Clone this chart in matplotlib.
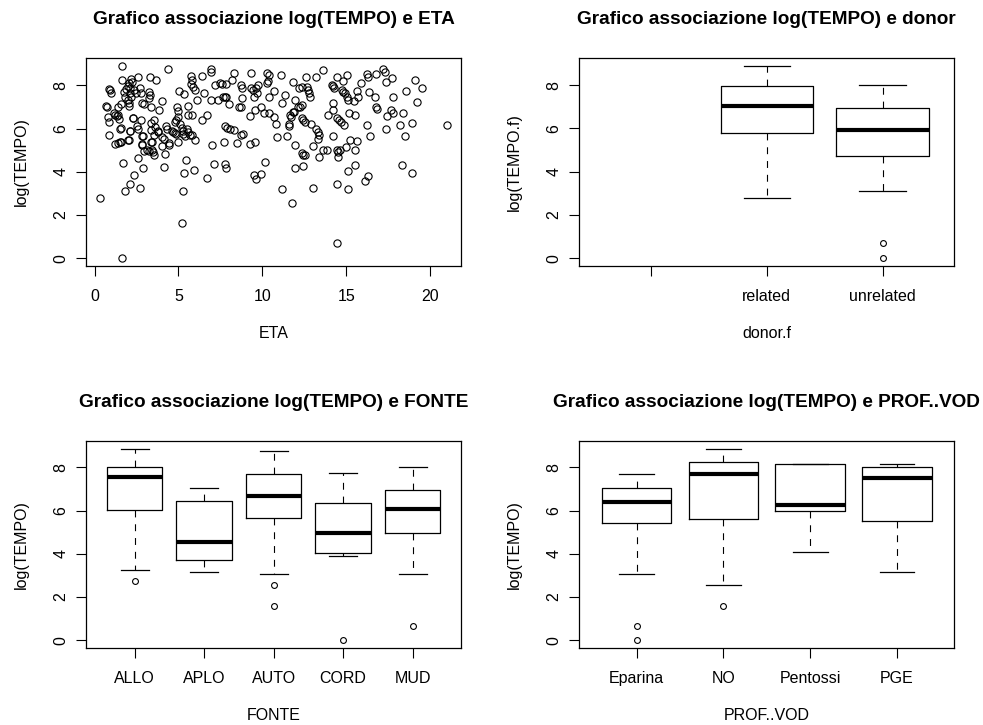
import matplotlib
matplotlib.use("Agg")
import matplotlib.pyplot as plt

plt.rcParams['font.family'] = ['Liberation Sans', 'DejaVu Sans']

# ---- scatter: ETA vs log(TEMPO) ----
eta = [
    0.32, 1.65, 1.61, 0.85, 0.90, 1.00, 0.70, 0.72, 0.80, 0.88,
    0.86, 1.15, 1.40, 1.48, 1.32, 1.20, 1.40, 1.52, 1.60, 1.50,
    1.70, 1.80, 2.10, 2.38, 2.70, 2.87, 2.58, 1.63, 1.78, 1.88,
    1.97, 2.07, 1.82, 1.97, 2.11, 2.14, 2.24, 2.18, 2.38, 2.48,
    2.61, 2.70, 2.76, 2.82, 2.05, 2.03, 2.30, 2.74, 2.55, 2.61,
    2.14, 2.08, 2.90, 2.84, 3.10, 3.25, 3.40, 3.43, 3.33, 3.23,
    3.28, 3.23, 3.37, 3.69, 3.53, 3.63, 3.53, 3.50, 3.56, 3.83,
    4.00, 3.80, 4.00, 4.04, 4.12, 4.22, 4.38, 4.26, 4.32, 4.42,
    4.12, 2.18, 1.39, 1.59, 2.93, 3.37, 2.28, 1.55, 3.77, 3.37,
    2.14, 2.02, 1.20, 2.82, 3.37, 2.82, 4.46, 2.95,
    4.60, 4.70, 4.80, 4.88, 4.93, 4.97, 5.00, 4.88, 4.82, 5.05,
    5.10, 5.20, 5.26, 5.30, 5.40, 4.98, 5.21, 5.27, 5.35, 5.47,
    5.35, 5.50, 5.55, 5.66, 5.55, 5.60, 5.80, 5.75, 5.80, 5.75,
    5.87, 6.00, 6.10, 5.90, 6.00, 5.80, 6.40, 6.50, 6.42, 6.70,
    6.70, 6.94, 6.96, 6.94, 7.00, 7.10, 7.20, 7.33, 7.45, 7.60,
    7.65, 7.75, 7.85, 7.69, 7.80, 7.90, 8.05, 7.80, 7.85, 7.85,
    8.00, 8.19, 8.29, 8.29, 8.48, 8.58, 8.72, 8.72, 8.78, 8.78,
    8.72, 8.84, 9.32, 9.32, 9.44, 9.50, 9.57, 9.63, 9.24, 9.24,
    9.57, 9.50, 9.60, 9.77, 9.70, 9.93, 9.93, 10.07, 10.17,
    10.27, 10.33, 10.30, 10.40, 10.37, 10.37, 10.70, 10.70, 10.82, 10.90,
    11.10, 11.16, 11.36, 11.20, 11.46, 11.56, 11.60, 11.66, 11.70, 11.78,
    11.81, 11.81, 11.90, 11.95, 11.95, 11.95, 12.15, 12.25, 12.35, 12.20,
    12.35, 12.35, 12.45, 12.55, 12.35, 12.45, 12.52, 12.45, 12.60, 12.65,
    12.75, 12.80, 12.85, 12.88, 13.00, 13.00, 13.20, 13.20, 13.33, 13.40,
    13.33, 13.40, 13.60, 13.60, 13.94, 13.84, 14.13, 14.20, 14.27, 14.20,
    14.23, 14.23, 14.47, 14.47, 14.47, 14.47, 14.57, 14.67, 14.47, 14.53,
    14.62, 14.53, 14.73, 14.83, 14.93, 15.03, 14.83, 14.87, 15.03, 14.99,
    15.13, 15.13, 15.13, 15.19, 15.23, 15.46, 15.52, 15.52, 15.52, 15.66,
    15.72, 15.66, 15.86, 16.12, 16.22,
    16.31, 16.26, 16.31, 16.37, 16.41, 16.71, 16.77, 16.77, 16.81, 17.20,
    17.30, 17.37, 17.37, 17.40, 17.70, 17.64, 17.76, 17.76, 18.20, 18.30,
    18.40, 18.50, 18.55, 18.89, 18.89, 19.09, 19.19, 19.49, 21.01,
]
log_tempo = [
    2.77, 8.91, 0.00, 7.85, 7.77, 7.65, 7.04, 6.98, 6.52, 6.30,
    5.69, 6.70, 6.62, 6.45, 6.58, 5.28, 5.33, 5.38, 5.40, 6.00,
    4.41, 3.10, 3.45, 3.87, 3.27, 4.16, 4.64, 8.25, 7.70, 7.85,
    7.95, 8.10, 7.45, 7.32, 7.66, 7.90, 8.15, 7.45, 7.80, 7.63,
    8.37, 7.90, 7.66, 7.17, 7.20, 7.05, 6.47, 6.42, 6.10, 6.00,
    5.90, 5.46, 5.65, 5.22, 5.00, 4.98, 5.00, 5.40, 8.37, 7.70,
    7.55, 7.40, 7.00, 8.25, 6.39, 6.08, 5.70, 4.90, 4.80, 6.86,
    7.29, 5.85, 5.20, 5.60, 4.22, 4.81, 8.76, 6.10, 6.00, 5.25,
    5.54, 8.31, 7.00, 7.16, 7.16, 6.26, 6.50, 6.03, 5.87, 5.93,
    5.87, 5.45, 6.65, 5.65, 5.36, 5.28, 5.33, 4.95,
    5.90, 5.85, 5.80, 5.75, 6.98, 6.82, 6.55, 6.40, 6.30, 7.75,
    6.20, 6.05, 5.90, 5.75, 5.65, 5.39, 1.63, 3.10, 3.95, 4.53,
    7.60, 6.00, 5.85, 5.70, 7.04, 6.62, 6.62, 8.43, 8.25, 8.06,
    7.91, 7.80, 7.32, 4.07, 5.46, 5.70, 8.43, 7.66, 6.39, 6.62,
    3.71, 8.74, 8.63, 7.32, 5.26, 4.38, 8.02, 7.32, 8.10, 8.08,
    7.45, 7.47, 7.45, 5.37, 6.10, 6.05, 6.00, 4.35, 4.19, 8.06,
    7.12, 8.25, 8.56, 5.93, 5.34, 6.98, 6.98, 8.02, 7.90, 7.40,
    5.70, 5.77, 8.59, 7.86, 7.78, 7.47, 6.86, 7.86, 6.58, 5.28,
    5.40, 3.87, 3.65, 8.02, 7.66, 3.89, 6.98, 6.70, 4.46,
    8.13, 8.22, 8.59, 8.48, 7.45, 6.70, 7.75, 6.55, 6.20, 5.62,
    8.48, 7.20, 7.55, 3.19, 5.65, 6.19, 6.11, 6.62, 6.55, 2.57,
    8.17, 6.78, 6.78, 7.32, 5.23, 4.19, 7.00, 7.00, 7.09, 7.90,
    7.92, 6.47, 6.39, 6.32, 4.87, 4.80, 4.77, 4.27, 8.37, 7.94,
    7.80, 7.63, 7.47, 6.20, 5.19, 3.27, 8.37, 6.00, 5.85, 5.70,
    5.54, 4.69, 8.71, 5.00, 6.62, 5.00, 8.02, 7.97, 7.90, 7.17,
    6.86, 5.65, 8.37, 3.45, 0.70, 6.47, 6.39, 6.32, 5.00, 4.92,
    5.00, 4.69, 7.80, 7.70, 7.63, 7.47, 8.22, 6.16, 8.48, 5.15,
    4.04, 3.19, 7.32, 6.73, 5.46, 7.27, 6.62, 5.00, 4.30, 7.75,
    7.47, 5.43, 8.13, 3.56, 8.53,
    8.37, 6.16, 3.79, 7.70, 5.65, 7.45, 8.53, 6.98, 6.89, 8.74,
    8.63, 8.17, 6.00, 6.58, 8.33, 6.86, 6.73, 7.47, 6.16, 4.30,
    6.73, 5.65, 7.75, 3.95, 6.27, 8.25, 7.24, 7.86, 6.16,
]

# ---- boxplot summaries: log(TEMPO.f) by donor ----
donor_labels = ['', 'related', 'unrelated']
donor_whislo = [2.78, 3.09]
donor_q1 = [5.80, 4.75]
donor_med = [7.04, 5.94]
donor_q3 = [7.95, 6.96]
donor_whishi = [8.90, 8.01]
donor_fliers = [[], [0.70, 0.00]]

# ---- boxplot summaries: log(TEMPO) by FONTE ----
fonte_labels = ['ALLO', 'APLO', 'AUTO', 'CORD', 'MUD']
fonte_whislo = [3.26, 3.18, 3.09, 3.92, 3.09]
fonte_q1 = [6.02, 3.71, 5.65, 4.05, 4.99]
fonte_med = [7.58, 4.57, 6.69, 4.99, 6.10]
fonte_q3 = [8.00, 6.47, 7.68, 6.35, 6.97]
fonte_whishi = [8.87, 7.07, 8.74, 7.75, 8.00]
fonte_fliers = [[2.76], [], [2.55, 1.59], [0.00], [0.68]]

# ---- boxplot summaries: log(TEMPO) by PROF..VOD ----
vod_labels = ['Eparina', 'NO', 'Pentossi', 'PGE']
vod_whislo = [3.09, 2.55, 4.08, 3.18]
vod_q1 = [5.44, 5.62, 5.99, 5.51]
vod_med = [6.38, 7.72, 6.27, 7.49]
vod_q3 = [7.03, 8.23, 8.17, 8.00]
vod_whishi = [7.68, 8.87, 8.17, 8.14]
vod_fliers = [[0.68, 0.00], [1.59], [], []]

W, H = 983, 725
DPI = 100
fig = plt.figure(figsize=(W / DPI, H / DPI), dpi=DPI, facecolor='white')

TICK_FS = 11.5
TITLE_FS = 13.7


def add_axes(left_px, top_px, width_px, height_px):
    return fig.add_axes([left_px / W, 1 - (top_px + height_px) / H,
                         width_px / W, height_px / H])


def style_axes(ax, title, xlabel, ylabel, width_px, height_px):
    for s in ax.spines.values():
        s.set_linewidth(0.9)
        s.set_color('black')
    ax.tick_params(direction='out', length=6.9, width=0.8, colors='black',
                   labelsize=TICK_FS)
    ax.tick_params(axis='x', pad=9.9)
    ax.tick_params(axis='y', pad=5.8)
    ax.set_yticks([0, 2, 4, 6, 8])
    ax.set_yticklabels(['0', '2', '4', '6', '8'], rotation=90, va='center')
    ax.annotate(title, xy=(0.5, 1), xycoords='axes fraction',
                xytext=(0, 38.3 * 72 / DPI), textcoords='offset points',
                ha='center', va='center', fontsize=TITLE_FS, fontweight='bold')
    ax.set_xlabel(xlabel, fontsize=TICK_FS)
    ax.xaxis.set_label_coords(0.5, -68 / height_px)
    ax.xaxis.label.set_va('center')
    ax.set_ylabel(ylabel, fontsize=TICK_FS)
    ax.yaxis.set_label_coords(-65 / width_px, 0.5)
    ax.yaxis.label.set_va('center')


def draw_boxes(ax, positions, whislo, q1, med, q3, whishi, fliers):
    stats = [dict(whislo=a, q1=b, med=c, q3=d, whishi=e, fliers=f)
             for a, b, c, d, e, f in zip(whislo, q1, med, q3, whishi, fliers)]
    ax.bxp(stats, positions=positions, widths=0.8, capwidths=0.4,
           manage_ticks=False, patch_artist=False,
           boxprops=dict(color='black', linewidth=0.9),
           whiskerprops=dict(color='black', linewidth=0.8,
                             linestyle=(0, (6.2, 6.2))),
           capprops=dict(color='black', linewidth=0.9),
           medianprops=dict(color='black', linewidth=3.0,
                            solid_capstyle='butt'),
           flierprops=dict(marker='o', markersize=4.2, markerfacecolor='none',
                           markeredgecolor='black', markeredgewidth=0.8,
                           linestyle='none'))


def category_limits(n):
    return (0.5 - 0.04 * n, n + 0.5 + 0.04 * n)


# top-left: scatter
ax1 = add_axes(86, 58, 375, 208)
ax1.plot(eta, log_tempo, linestyle='none', marker='o', markersize=5.2,
         markerfacecolor='none', markeredgecolor='black', markeredgewidth=0.8)
ax1.margins(0.04)
ax1.set_xticks([0, 5, 10, 15, 20])
style_axes(ax1, 'Grafico associazione log(TEMPO) e ETA', 'ETA', 'log(TEMPO)', 375, 208)

# top-right: donor
ax2 = add_axes(579.3, 58, 375, 208)
draw_boxes(ax2, [2, 3], donor_whislo, donor_q1, donor_med, donor_q3,
           donor_whishi, donor_fliers)
ax2.margins(y=0.04)
ax2.set_xlim(*category_limits(len(donor_labels)))
ax2.set_xticks(range(1, len(donor_labels) + 1))
ax2.set_xticklabels(donor_labels)
style_axes(ax2, 'Grafico associazione log(TEMPO) e donor', 'donor.f', 'log(TEMPO.f)', 375, 208)

# bottom-left: FONTE
ax3 = add_axes(86, 441, 375.3, 207)
draw_boxes(ax3, list(range(1, len(fonte_labels) + 1)), fonte_whislo, fonte_q1,
           fonte_med, fonte_q3, fonte_whishi, fonte_fliers)
ax3.margins(y=0.04)
ax3.set_xlim(*category_limits(len(fonte_labels)))
ax3.set_xticks(range(1, len(fonte_labels) + 1))
ax3.set_xticklabels(fonte_labels)
style_axes(ax3, 'Grafico associazione log(TEMPO) e FONTE', 'FONTE', 'log(TEMPO)', 375.3, 207)

# bottom-right: PROF..VOD
ax4 = add_axes(579.3, 441, 375, 207)
draw_boxes(ax4, list(range(1, len(vod_labels) + 1)), vod_whislo, vod_q1,
           vod_med, vod_q3, vod_whishi, vod_fliers)
ax4.margins(y=0.04)
ax4.set_xlim(*category_limits(len(vod_labels)))
ax4.set_xticks(range(1, len(vod_labels) + 1))
ax4.set_xticklabels(vod_labels)
style_axes(ax4, 'Grafico associazione log(TEMPO) e PROF..VOD', 'PROF..VOD', 'log(TEMPO)', 375, 207)

fig.savefig('out.png', dpi=DPI, facecolor='white')
